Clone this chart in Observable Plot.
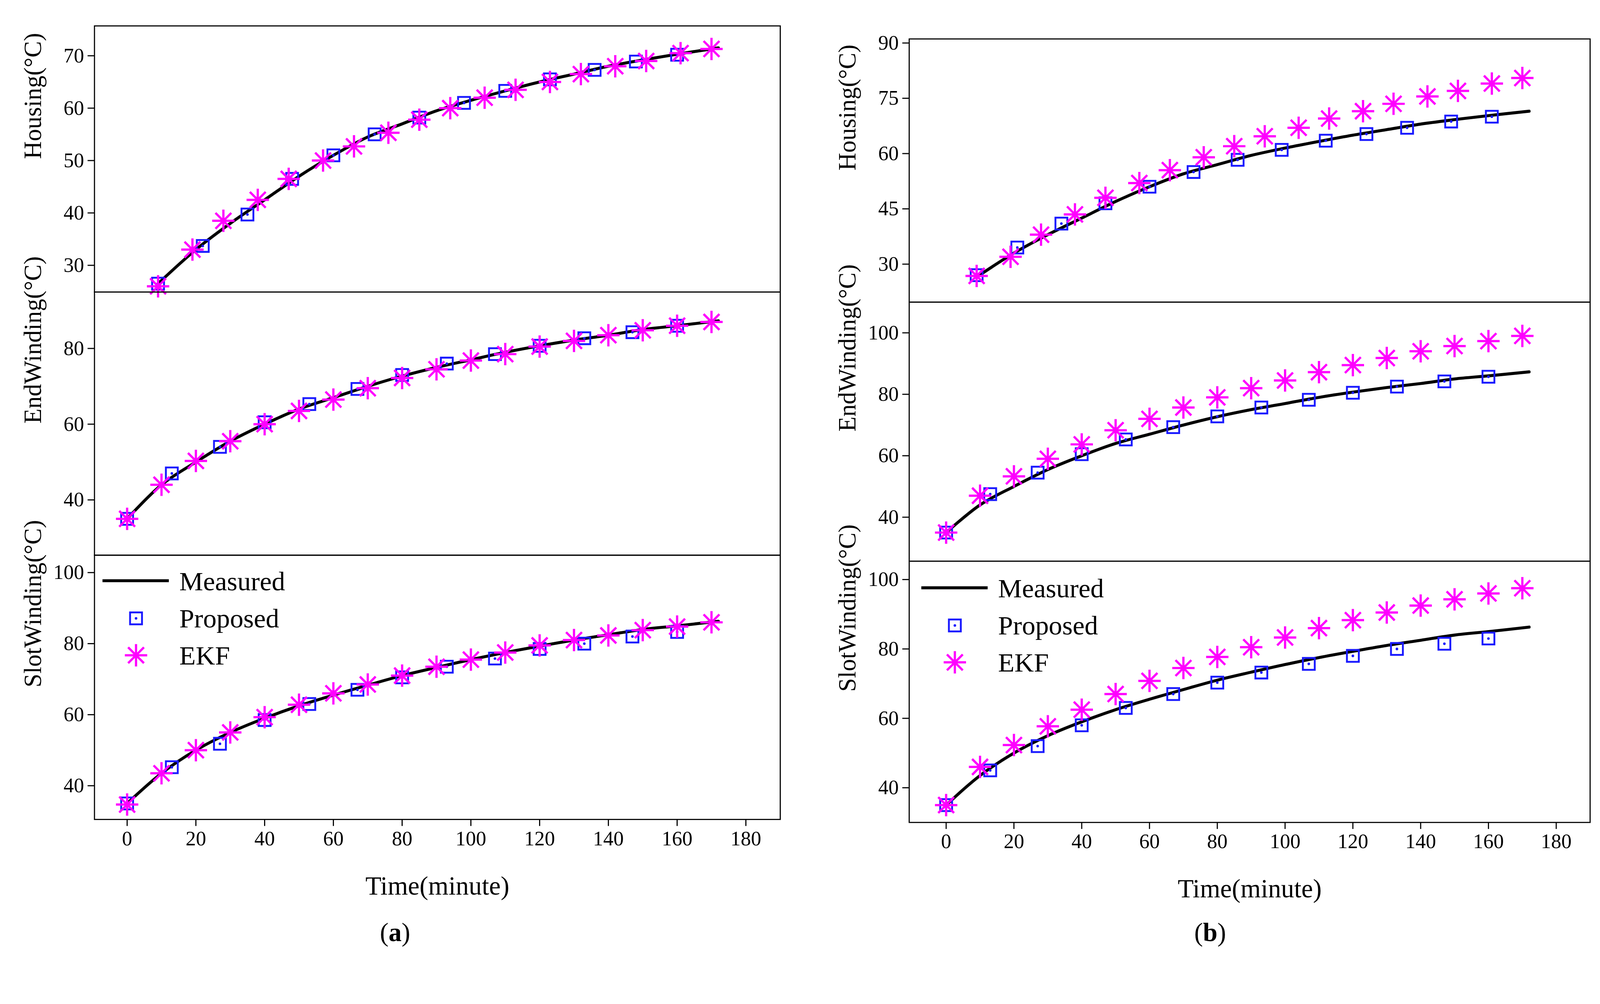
<!DOCTYPE html>
<html><head><meta charset="utf-8">
<script src="https://cdn.jsdelivr.net/npm/d3@7"></script>
<script src="https://cdn.jsdelivr.net/npm/@observablehq/plot@0.6"></script>
<style>
html,body{margin:0;padding:0;background:#fff;overflow:hidden;font-family:"Liberation Serif","Times New Roman",serif;}
#wrap{position:absolute;left:0;top:0;width:4293px;height:2570px;transform-origin:0 0;}
.p{position:absolute;}
</style></head><body>
<div id="wrap"></div>
<script>
// ---------- data ----------
const measT = [0,10,20,30,40,50,60,70,80,90,100,110,120,130,140,150,160,172];
const measHousingT = [9,20,30,40,50,60,70,80,90,100,110,120,130,140,150,160,172];
const measHousing = [26.5,33,38,42.5,47,51,54.5,57,59.5,61.5,63.3,65,66.5,68,69.2,70.3,71.5];
const measEnd = [35,44,50,55.5,60,64,67,70,72.7,75,77,79,80.7,82.2,83.5,85,86,87.3];
const measSlot = [35,43.5,50,55,59,62.5,65.5,68.3,71,73.3,75.5,77.5,79.3,81,82.5,84,85,86.3];

const propHousingT = [9,22,35,48,60,72,85,98,110,123,136,148,160];
const propA_Housing = [26.5,33.7,39.7,46.5,51,55,58.2,61,63.3,65.5,67.3,68.9,70.2];
const ekfHousingT = [9,19,28,38,47,57,66,76,85,94,104,113,123,132,142,151,161,170];
const ekfA_Housing = [26,33,38.5,42.5,46.5,50,52.7,55.3,57.8,60,62,63.5,65,66.5,68,69,70.5,71.3];

const propT = [0,13,27,40,53,67,80,93,107,120,133,147,160];
const ekfT = [0,10,20,30,40,50,60,70,80,90,100,110,120,130,140,150,160,170];
const propA_End = [35,47,54,60.5,65.3,69.3,73,76,78.5,80.7,82.7,84.3,86];
const ekfA_End = [35,44,50.3,55.5,60,63.5,66.5,69.5,72.2,74.5,76.8,78.5,80.5,82,83.5,84.8,86,87];
const propA_Slot = [35,45.2,51.8,58.5,63,67,70.5,73.5,75.8,78.5,80,82,83.3];
const ekfA_Slot = [34.7,43.5,50,55,59.3,62.8,66,68.5,71,73.5,75.5,77.5,79.5,81,82.3,83.8,84.8,86];

const propB_HousingT = [9,21,34,47,60,73,86,99,112,124,136,149,161];
const propB_Housing = [27,34.5,41,46.5,51,55,58.3,61,63.5,65.3,67,68.7,70];
const ekfB_Housing = [26.8,32,38,43.5,48,52,55.5,59,62,64.7,67,69.5,71.5,73.5,75.5,77,79,80.5];
const propB_End = [35,47.5,54.5,60.5,65.3,69.3,72.8,75.7,78.2,80.5,82.5,84.2,85.7];
const ekfB_End = [35,47,53.3,59,63.7,68.3,72,75.7,79,82,84.5,87.2,89.5,91.8,94,95.7,97.3,99];
const propB_Slot = [35,45,52,58,63,67,70.3,73.2,75.7,78,80,81.5,83];
const ekfB_Slot = [35,46,52.3,57.7,62.5,67,70.8,74.5,77.7,80.5,83.3,86,88.3,90.5,92.5,94.3,96,97.5];

const xTicks = [0,20,40,60,80,100,120,140,160,180];
const legendLabels = ["Measured","Proposed","EKF"];
const captions = ["a","b"];

// ---------- drawing ----------
const wrap = document.getElementById("wrap");
const sc = Math.min(1, (window.innerWidth||4293)/4293, (window.innerHeight||2570)/2570);
wrap.style.transform = `scale(${sc})`;
const FONT = "Liberation Serif";
const star = {draw(ctx, size){const r=Math.sqrt(size/Math.PI);
  for(let k=0;k<4;k++){const a=k*Math.PI/4;ctx.moveTo(r*Math.cos(a),r*Math.sin(a));ctx.lineTo(-r*Math.cos(a),-r*Math.sin(a));}}};
const zip=(t,v)=>t.map((x,i)=>({t:x,v:v[i]}));
const ML=230, MR=20;

function sub({left,top,w,h,xd,yd,yticks,label,meas,prop,ekf,bottom}){
  const mb = bottom?230:0;
  const marks=[
    Plot.line(meas,{x:"t",y:"v",stroke:"black",strokeWidth:8,curve:"catmull-rom"}),
    Plot.dot(prop,{x:"t",y:"v",symbol:"square",r:18,stroke:"#1a1aff",strokeWidth:5,fill:"none"}),
    Plot.dot(prop,{x:"t",y:"v",r:3.5,fill:"#1a1aff"}),
    Plot.dot(ekf,{x:"t",y:"v",symbol:star,r:30,stroke:"#ff00ff",strokeWidth:6}),
    Plot.frame({stroke:"black",strokeWidth:3}),
    Plot.axisY({ticks:yticks,tickSize:18,tickPadding:10,label:null,strokeWidth:3,fontSize:55}),
    Plot.text([label],{frameAnchor:"left",rotate:-90,dx:-165,fontSize:66,fill:"black"})
  ];
  if(bottom){
    marks.push(Plot.axisX({ticks:xTicks,tickSize:18,tickPadding:12,label:null,strokeWidth:3,fontSize:55}));
    marks.push(Plot.text(["Time(minute)"],{frameAnchor:"bottom",dy:179,lineAnchor:"middle",fontSize:70,fill:"black"}));
  } else marks.push(Plot.axisX({ticks:xTicks,tickSize:0,tickFormat:()=>"",label:null}));
  const svg=Plot.plot({width:w+ML+MR,height:h+mb,marginLeft:ML,marginRight:MR,marginTop:0,marginBottom:mb,
    x:{domain:xd},y:{domain:yd},clip:false,
    style:{fontFamily:FONT,fontSize:"55px",color:"black",overflow:"visible",background:"none"},marks});
  svg.classList.add("p");svg.style.left=(left-ML)+"px";svg.style.top=top+"px";
  wrap.appendChild(svg);
}

// panel a
sub({left:253,top:69,w:1840,h:714,xd:[-9.5,190],yd:[24.9,75.7],yticks:[30,40,50,60,70],label:"Housing(°C)",
  meas:zip(measHousingT,measHousing),prop:zip(propHousingT,propA_Housing),ekf:zip(ekfHousingT,ekfA_Housing)});
sub({left:253,top:783,w:1840,h:706,xd:[-9.5,190],yd:[25.4,94.9],yticks:[40,60,80],label:"EndWinding(°C)",
  meas:zip(measT,measEnd),prop:zip(propT,propA_End),ekf:zip(ekfT,ekfA_End)});
sub({left:253,top:1489,w:1840,h:709,xd:[-9.5,190],yd:[30.5,104.9],yticks:[40,60,80,100],label:"SlotWinding(°C)",
  meas:zip(measT,measSlot),prop:zip(propT,propA_Slot),ekf:zip(ekfT,ekfA_Slot),bottom:true});
// panel b
sub({left:2439,top:104,w:1827,h:706,xd:[-10.9,190],yd:[19.7,91.1],yticks:[30,45,60,75,90],label:"Housing(°C)",
  meas:zip(measHousingT,measHousing),prop:zip(propB_HousingT,propB_Housing),ekf:zip(ekfHousingT,ekfB_Housing)});
sub({left:2439,top:810,w:1827,h:695,xd:[-10.9,190],yd:[25.7,110],yticks:[40,60,80,100],label:"EndWinding(°C)",
  meas:zip(measT,measEnd),prop:zip(propT,propB_End),ekf:zip(ekfT,ekfB_End)});
sub({left:2439,top:1505,w:1827,h:701,xd:[-10.9,190],yd:[30,105.3],yticks:[40,60,80,100],label:"SlotWinding(°C)",
  meas:zip(measT,measSlot),prop:zip(propT,propB_Slot),ekf:zip(ekfT,ekfB_Slot),bottom:true});

// overlay: legends and captions
const ov=d3.select(wrap).append("svg").attr("class","p").style("left","0px").style("top","0px")
  .attr("width",4293).attr("height",2570).style("font-family",FONT);
function legend(x0,y0){
  const g=ov.append("g");
  g.append("line").attr("x1",x0).attr("x2",x0+178).attr("y1",y0).attr("y2",y0).attr("stroke","black").attr("stroke-width",8);
  const cx=x0+90;
  g.append("rect").attr("x",cx-16).attr("y",y0+101-16).attr("width",32).attr("height",32).attr("fill","none").attr("stroke","#1a1aff").attr("stroke-width",5);
  g.append("circle").attr("cx",cx).attr("cy",y0+101).attr("r",3.5).attr("fill","#1a1aff");
  const p=d3.path();star.draw(p,Math.PI*30*30);
  g.append("path").attr("d",p.toString()).attr("transform",`translate(${cx},${y0+200})`).attr("stroke","#ff00ff").attr("stroke-width",6);
  legendLabels.forEach((t,i)=>g.append("text").attr("x",x0+206).attr("y",y0+i*100).attr("dy","0.35em").attr("font-size",72).text(t));
}
legend(275,1558);
legend(2472,1577);
[[1060,"a"],[3247,"b"]].forEach(([x,c],i)=>{
  const t=ov.append("text").attr("x",x).attr("y",2500).attr("dy","0.35em").attr("text-anchor","middle").attr("font-size",70);
  t.append("tspan").text("(");t.append("tspan").attr("font-weight","bold").text(captions[i]);t.append("tspan").text(")");
});
</script>
</body></html>
